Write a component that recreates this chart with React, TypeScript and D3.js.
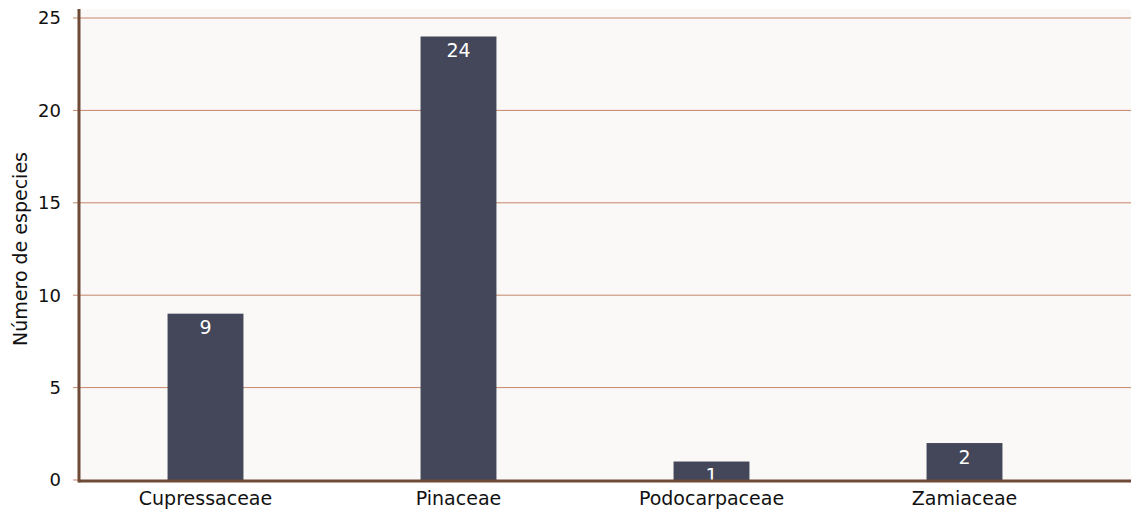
import React from "react";
import * as d3 from "d3";

const categories = ["Cupressaceae", "Pinaceae", "Podocarpaceae", "Zamiaceae"];
const values = [9, 24, 1, 2];
const yTicks = [0, 5, 10, 15, 20, 25];
const yTitle = "Número de especies";

const W = 1131;
const H = 510;
const left = 79;
const plotRight = 1091;
const top = 9;
const bottom = 480;

export default function App() {
  const x = d3.scaleBand<string>().domain(categories).range([left, plotRight]).paddingInner(0.7).paddingOuter(0.35);
  const y = d3.scaleLinear().domain([0, 25]).range([bottom, 18]);
  const font = "'DejaVu Sans', sans-serif";
  return (
    <svg width={W} height={H} style={{ position: "absolute", left: 0, top: 0 }}>
      <rect x={left} y={top} width={W - left} height={bottom - top} fill="#faf9f8" />
      {yTicks.map((t) => (
        <g key={t}>
          {t > 0 && <line x1={left} x2={W} y1={y(t)} y2={y(t)} stroke="#c4866a" strokeWidth={1} />}
          <line x1={73} x2={left} y1={y(t)} y2={y(t)} stroke="#c4866a" strokeWidth={1} />
          <text x={61} y={y(t)} dy="0.36em" textAnchor="end" fontFamily={font} fontSize={18} fill="#111">{t}</text>
        </g>
      ))}
      {categories.map((c, i) => (
        <g key={c}>
          <rect x={x(c)} y={y(values[i])} width={x.bandwidth()} height={y(0) - y(values[i])} fill="#434759" />
          <text x={(x(c) as number) + x.bandwidth() / 2} y={y(values[i]) + 20.5} textAnchor="middle" fontFamily={font} fontSize={19} fill="#fff">{values[i]}</text>
          <text x={(x(c) as number) + x.bandwidth() / 2} y={505} textAnchor="middle" fontFamily={font} fontSize={19} fill="#111">{c}</text>
        </g>
      ))}
      <line x1={left} x2={W} y1={bottom + 1} y2={bottom + 1} stroke="#6f4a36" strokeWidth={3} />
      <line x1={left} x2={left} y1={top} y2={bottom + 2.5} stroke="#6f4a36" strokeWidth={3} />
      <text transform={`translate(27,${(18 + bottom) / 2}) rotate(-90)`} textAnchor="middle" fontFamily={font} fontSize={19} fill="#111">{yTitle}</text>
    </svg>
  );
}
